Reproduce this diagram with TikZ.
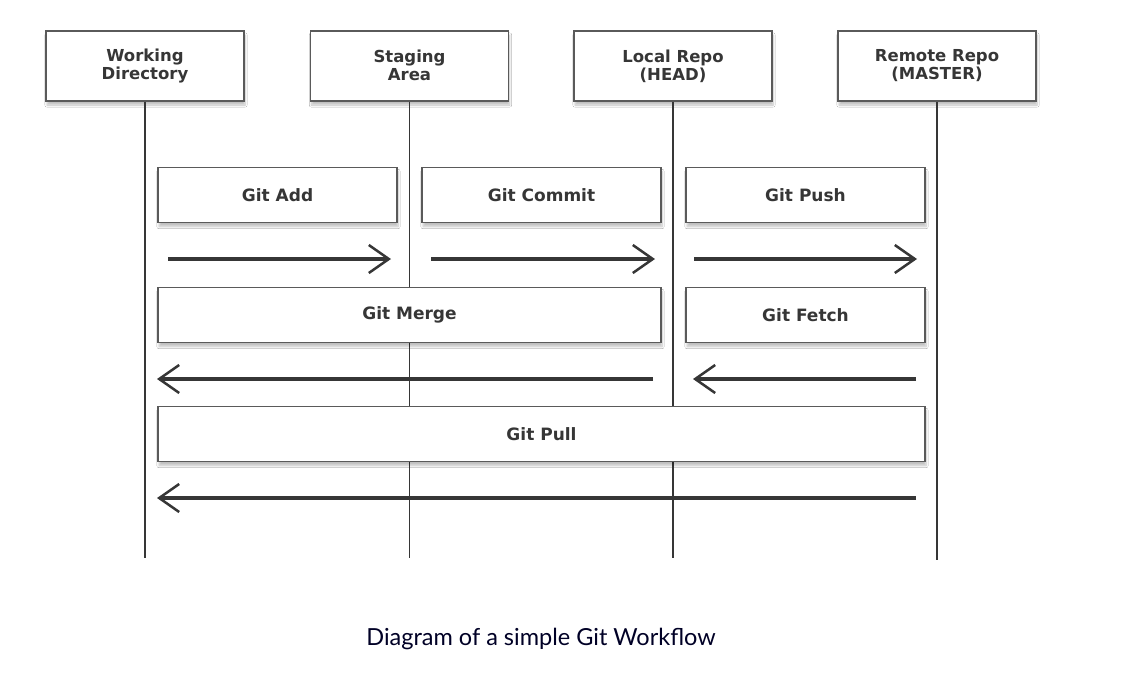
\documentclass[tikz,border=0pt]{standalone}
\usepackage{fontspec}
\setmainfont{DejaVu Sans}
\newfontfamily\capfont{Lato}
\usetikzlibrary{arrows.meta, shadows.blur}

\definecolor{ink}{HTML}{363636}
\definecolor{frame}{HTML}{5A5A5A}

\begin{document}
\begin{tikzpicture}[x=1pt, y=-1pt, thick, nodes = {align = center}]

  \tikzstyle{stage}=[draw=frame, line width=1.3pt, fill=white, rectangle, minimum height=70pt, minimum width=198pt, text=ink, font=\bfseries\fontsize{16.5}{18}\selectfont, execute at end node={\vphantom{(}}, blur shadow={shadow xshift=1pt, shadow yshift=-4pt, shadow blur steps=6, shadow opacity=25}]
  \tikzstyle{cmd}=[draw=frame, line width=1.3pt, fill=white, rectangle, minimum height=55pt, text=ink, font=\bfseries\fontsize{17}{17}\selectfont, blur shadow={shadow xshift=1pt, shadow yshift=-4pt, shadow blur steps=6, shadow opacity=25}]
  \tikzstyle{life}=[draw=ink, line width=1.3pt]
  \tikzstyle{flow}=[draw=ink, line width=3.2pt, -{Straight Barb[length=20pt, width=28pt, line width=2.5pt]}]

  \useasboundingbox[fill=white] (0,0) rectangle (1138,694);

  % lifelines
  \coordinate (wd-end) at (145,558);
  \coordinate (st-end) at (409.5,558);
  \coordinate (lr-end) at (673,558);
  \coordinate (rr-end) at (937,560);

  \node[stage] (wd) at (145,66) {Working\\Directory};
  \node[stage] (st) at (409.5,66) {Staging\\Area};
  \node[stage] (lr) at (673,66) {Local Repo\\(HEAD)};
  \node[stage] (rr) at (937,66) {Remote Repo\\(MASTER)};

  \draw[life] (wd.south) -- (wd-end);
  \draw[life] (st.south) -- (st-end);
  \draw[life] (lr.south) -- (lr-end);
  \draw[life] (rr.south) -- (rr-end);

  % commands
  \node[cmd, minimum width=239pt] (add) at (277.5,195) {Git Add};
  \node[cmd, minimum width=239pt] (commit) at (541.5,195) {Git Commit};
  \node[cmd, minimum width=239pt] (push) at (805.5,195) {Git Push};
  \node[cmd, minimum width=503pt] (merge) at (409.5,315) {Git Merge};
  \node[cmd, minimum width=239pt] (fetch) at (805.5,315) {Git Fetch};
  \node[cmd, minimum width=767pt] (pull) at (541.5,434) {Git Pull};

  % arrows
  \coordinate (add-s) at (168,259);    \coordinate (add-e) at (391,259);
  \coordinate (commit-s) at (431,259); \coordinate (commit-e) at (655,259);
  \coordinate (push-s) at (694,259);   \coordinate (push-e) at (917,259);
  \coordinate (merge-s) at (653,379);  \coordinate (merge-e) at (157,379);
  \coordinate (fetch-s) at (916,379);  \coordinate (fetch-e) at (693,379);
  \coordinate (pull-s) at (916,498);   \coordinate (pull-e) at (157,498);

  \draw[flow] (add-s) -- (add-e);
  \draw[flow] (commit-s) -- (commit-e);
  \draw[flow] (push-s) -- (push-e);
  \draw[flow] (merge-s) -- (merge-e);
  \draw[flow] (fetch-s) -- (fetch-e);
  \draw[flow] (pull-s) -- (pull-e);

  \node[font=\capfont\fontsize{23.5}{23.5}\selectfont, text=black!85!blue] (cap) at (541,639) {Diagram of a simple Git Workflow};
\end{tikzpicture}
\end{document}
